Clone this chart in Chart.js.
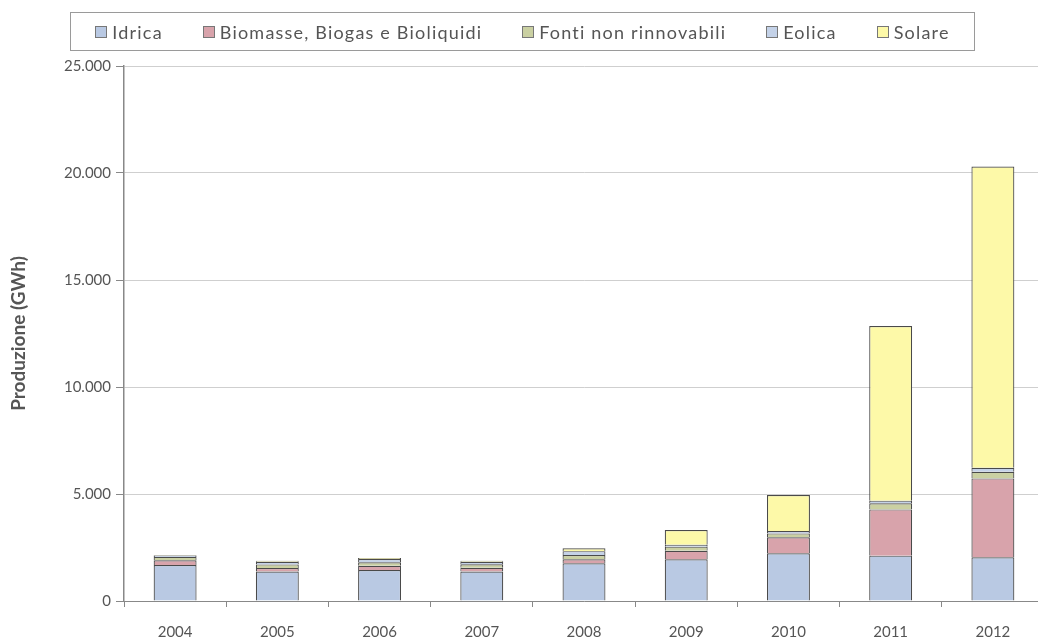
<!DOCTYPE html>
<html>
<head>
<meta charset="utf-8">
<script src="https://cdn.jsdelivr.net/npm/chart.js@4"></script>
<style>
  html, body { margin: 0; padding: 0; background: #fff; overflow: hidden; }
  #wrap { position: absolute; left: 0; top: 0; width: 1044px; height: 641px; }
  #legend {
    position: absolute; left: 70px; top: 12px; width: 903px; height: 37px;
    border: 1px solid #9a9a9a; display: flex; align-items: center; justify-content: center;
    gap: 40px; font-family: Lato, sans-serif; font-size: 18px; letter-spacing: 1.2px; color: #555;
  }
  #legend .item { display: flex; align-items: center; }
  #legend .sw { width: 10px; height: 10px; border: 1px solid #777; margin-right: 5px; }
</style>
</head>
<body>
<div id="wrap">
  <canvas id="chart" width="1044" height="641"></canvas>
</div>
<div id="legend"></div>
<script>
const years = ['2004', '2005', '2006', '2007', '2008', '2009', '2010', '2011', '2012'];
const idrica = [1680, 1380, 1450, 1380, 1760, 1950, 2230, 2120, 2040];
const biomasse = [220, 160, 200, 170, 190, 400, 750, 2160, 3690];
const fontiNonRinnovabili = [160, 170, 160, 170, 200, 190, 180, 290, 310];
const eolica = [70, 120, 150, 110, 180, 90, 110, 120, 190];
const solare = [20, 50, 50, 50, 130, 690, 1680, 8160, 14070];
const yTicks = [0, 5000, 10000, 15000, 20000, 25000];

const fmt = v => String(v).replace(/\B(?=(\d{3})+(?!\d))/g, '.');

const series = [
    { label: 'Idrica', data: idrica, color: '#b9c9e3' },
    { label: 'Biomasse, Biogas e Bioliquidi', data: biomasse, color: '#d8a3ab' },
    { label: 'Fonti non rinnovabili', data: fontiNonRinnovabili, color: '#cad0a2' },
    { label: 'Eolica', data: eolica, color: '#c4d2e8' },
    { label: 'Solare', data: solare, color: '#fdf9a8' }
];

// HTML legend (boxed, like the original)
const legendEl = document.getElementById('legend');
series.forEach(s => {
    const item = document.createElement('div');
    item.className = 'item';
    item.innerHTML = '<span class="sw" style="background:' + s.color + '"></span><span>' + s.label + '</span>';
    legendEl.appendChild(item);
});

new Chart(document.getElementById('chart'), {
    type: 'bar',
    data: {
        labels: years,
        datasets: series.map(s => ({
            label: s.label,
            data: s.data,
            backgroundColor: s.color,
            borderColor: '#4a4a4a',
            borderWidth: 1.2,
            barPercentage: 0.42,
            categoryPercentage: 1
        }))
    },
    options: {
        responsive: false,
        animation: false,
        layout: { padding: { top: 66, right: 0, bottom: 0, left: 0 } },
        plugins: {
            legend: { display: false },
            tooltip: { enabled: false }
        },
        scales: {
            x: {
                stacked: true,
                afterFit: s => { s.height = 40; },
                grid: {
                    drawOnChartArea: false,
                    tickLength: 6,
                    tickColor: '#888',
                    offset: true
                },
                border: { color: '#888', width: 1 },
                ticks: {
                    color: '#555',
                    padding: 16,
                    font: { family: 'Lato', size: 15 }
                }
            },
            y: {
                stacked: true,
                min: 0,
                max: 25000,
                afterFit: s => { s.width = 124; },
                afterBuildTicks: s => { s.ticks = yTicks.map(v => ({ value: v })); },
                grid: {
                    color: '#cfcfcf',
                    tickColor: '#888',
                    tickLength: 8
                },
                border: { color: '#888', width: 1.5 },
                ticks: {
                    color: '#555',
                    padding: 5,
                    font: { family: 'Lato', size: 15 },
                    callback: v => fmt(v)
                },
                title: {
                    display: true,
                    text: 'Produzione (GWh)',
                    color: '#555',
                    padding: { top: 7, bottom: 0 },
                    font: { family: 'Lato', size: 19, weight: 'bold' }
                }
            }
        }
    }
});
</script>
</body>
</html>
